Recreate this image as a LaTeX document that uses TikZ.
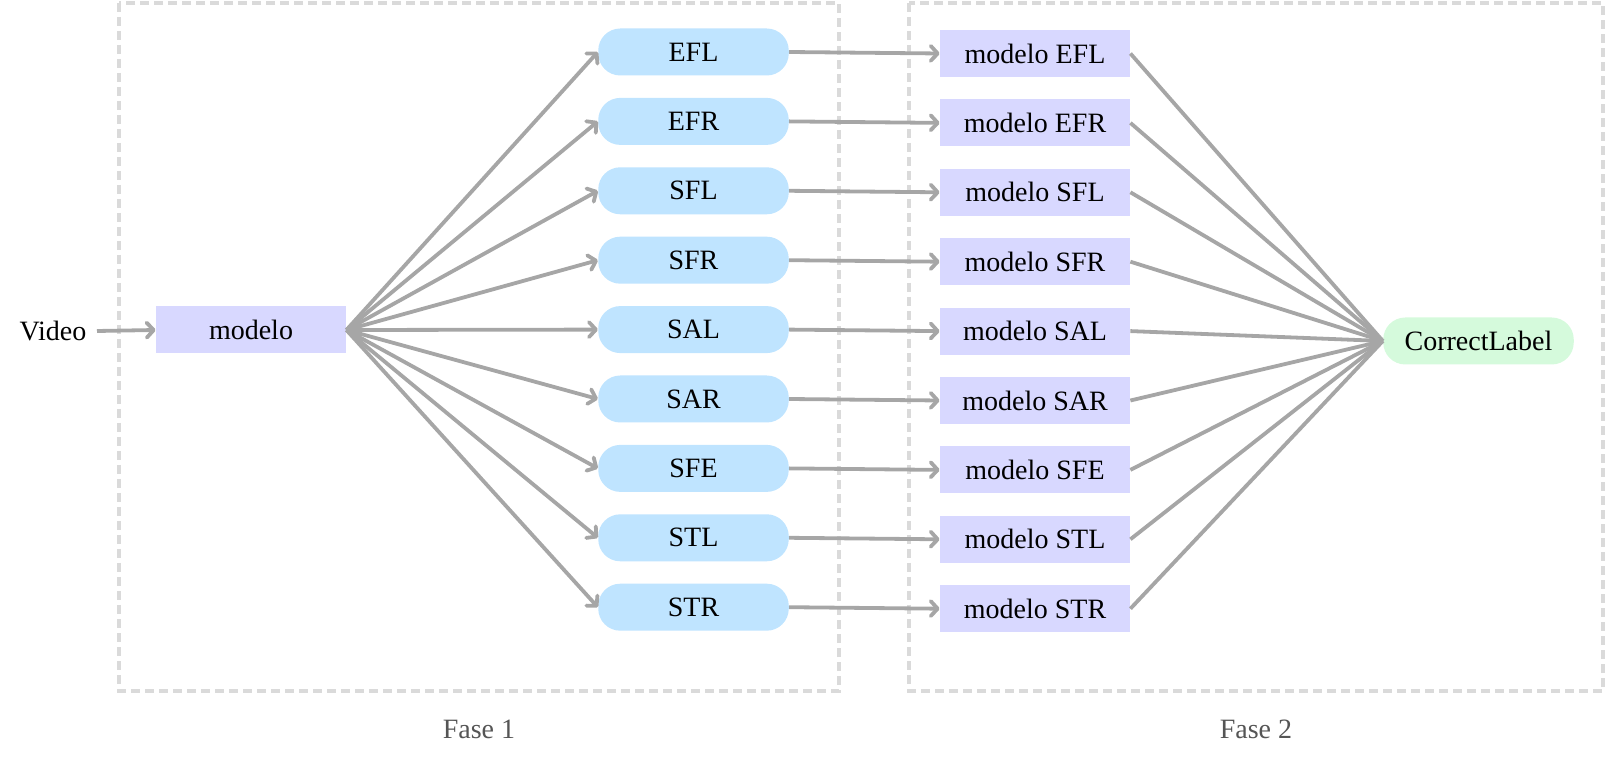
\documentclass[tikz,border=0pt]{standalone}
\usepackage{fontspec}
\setmainfont{Liberation Serif}
\usetikzlibrary{arrows.meta}
\definecolor{edgegray}{HTML}{A6A6A6}
\definecolor{clustergray}{HTML}{DADADA}
\definecolor{pillblue}{HTML}{BFE4FF}
\definecolor{boxlav}{HTML}{D8D8FF}
\definecolor{pillgreen}{HTML}{D5FADC}
\definecolor{labelgray}{HTML}{555555}
\tikzset{
  x=0.5pt, y=-0.5pt,
  every node/.style={font=\fontsize{14pt}{16pt}\selectfont, inner sep=0pt},
  boxnode/.style={fill=boxlav, minimum width=95pt, minimum height=23.5pt},
  pillnode/.style={fill=pillblue, rounded corners=11pt, minimum width=95.25pt, minimum height=23.5pt},
  finalnode/.style={fill=pillgreen, rounded corners=11pt, minimum width=95.25pt, minimum height=23.5pt},
  conn/.style={draw=edgegray, line width=1.9pt},
  arr/.style={conn, -{Straight Barb[length=3.5pt,width=7.5pt,line width=1.9pt,round]}},
  clusterbox/.style={draw=clustergray, line width=1.8pt, dash pattern=on 4.5pt off 2.5pt},
  faselabel/.style={text=labelgray},
}
\begin{document}
\begin{tikzpicture}
\useasboundingbox (0,0) rectangle (1606,758);
\draw[clusterbox] (119,3) rectangle (839,691);
\draw[clusterbox] (909,3) rectangle (1603,691);
\node[faselabel] (f1) at (479,729) {Fase 1};
\node[faselabel] (f2) at (1256,729) {Fase 2};

\node (video) at (53,331) {Video};
\node[boxnode] (m) at (251,330) {modelo};
\coordinate (vs) at (97,331);
\draw[arr] (vs) -- (m.west);

\node[finalnode] (cl) at (1478.5,341) {CorrectLabel};

\foreach \n [count=\i from 0] in {EFL,EFR,SFL,SFR,SAL,SAR,SFE,STL,STR} {
  \pgfmathsetmacro{\yy}{52+69.4*\i}
  \pgfmathsetmacro{\yb}{53.5+69.4*\i}
  \node[pillnode] (p\n) at (693.5,\yy) {\n};
  \node[boxnode] (b\n) at (1035,\yb) {modelo \n};
  \draw[arr] (m.east) -- (p\n.west);
  \draw[arr] (p\n.east) -- (b\n.west);
  \draw[conn] (b\n.east) -- (cl.west);
}
\end{tikzpicture}
\end{document}
